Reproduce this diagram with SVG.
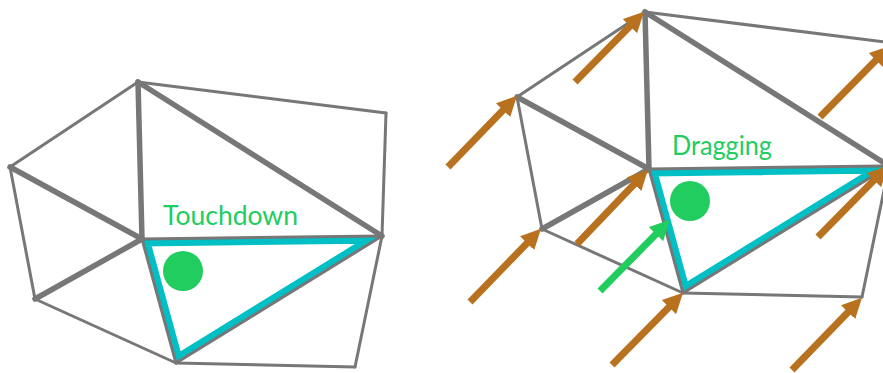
<svg xmlns="http://www.w3.org/2000/svg" width="883" height="373" viewBox="0 0 883 373">
<defs>
<style>
.e{stroke:#777777;stroke-width:3;fill:none;stroke-linecap:round}
.t{stroke-width:5.5}
.cy{fill:none;stroke:#00BFC5;stroke-width:15;stroke-linejoin:miter}
.dot{fill:#20CD5E}
.lbl{font-family:Lato,"Open Sans","Liberation Sans",sans-serif;font-size:26px;fill:#20CD5E}
.oa{stroke:#B8711F;stroke-width:7;fill:none}
.ga{stroke:#20CD5E;stroke-width:7;fill:none}
</style>
<clipPath id="tri" clipPathUnits="userSpaceOnUse"><polygon points="142,239 382,236 176,363"/></clipPath>
<marker id="ho" viewBox="0 0 20 20" refX="10" refY="10" markerWidth="20" markerHeight="20" markerUnits="userSpaceOnUse" orient="auto"><path d="M0,0 L20,10 L0,20 z" fill="#B8711F"/></marker>
<marker id="hg" viewBox="0 0 20 20" refX="10" refY="10" markerWidth="20" markerHeight="20" markerUnits="userSpaceOnUse" orient="auto"><path d="M0,0 L20,10 L0,20 z" fill="#20CD5E"/></marker>
</defs>
<rect width="883" height="373" fill="#ffffff"/>

<g id="touchdown">
  <polygon class="cy" points="142,239 382,236 176,363" clip-path="url(#tri)"/>
  <g id="mesh-left-edges">
    <line class="e" x1="138" y1="82" x2="386" y2="113"/>
    <line class="e" x1="138" y1="82" x2="10" y2="167"/>
    <line class="e" x1="386" y1="113" x2="382" y2="236"/>
    <line class="e" x1="10" y1="167" x2="35" y2="299"/>
    <line class="e" x1="35" y1="299" x2="176" y2="363"/>
    <line class="e" x1="176" y1="363" x2="355" y2="367"/>
    <line class="e" x1="382" y1="236" x2="355" y2="367"/>
    <line class="e" x1="142" y1="239" x2="382" y2="236"/>
    <line class="e" x1="142" y1="239" x2="176" y2="363"/>
    <line class="e" x1="382" y1="236" x2="176" y2="363"/>
    <line class="e t" x1="138" y1="82" x2="142" y2="239"/>
    <line class="e t" x1="138" y1="82" x2="382" y2="236"/>
    <line class="e t" x1="10" y1="167" x2="142" y2="239"/>
    <line class="e t" x1="142" y1="239" x2="35" y2="299"/>
  </g>
  <circle class="dot" cx="183" cy="271" r="20"/>
  <text class="lbl" x="163" y="225" textLength="135" lengthAdjust="spacingAndGlyphs">Touchdown</text>
</g>

<g id="dragging">
  <g transform="translate(507,-70)">
    <polygon class="cy" points="142,239 382,236 176,363" clip-path="url(#tri)"/>
    <g id="mesh-right-edges">
      <line class="e" x1="138" y1="82" x2="386" y2="113"/>
      <line class="e" x1="138" y1="82" x2="10" y2="167"/>
      <line class="e" x1="386" y1="113" x2="382" y2="236"/>
      <line class="e" x1="10" y1="167" x2="35" y2="299"/>
      <line class="e" x1="35" y1="299" x2="176" y2="363"/>
      <line class="e" x1="176" y1="363" x2="355" y2="367"/>
      <line class="e" x1="382" y1="236" x2="355" y2="367"/>
      <line class="e" x1="142" y1="239" x2="382" y2="236"/>
      <line class="e" x1="142" y1="239" x2="176" y2="363"/>
      <line class="e" x1="382" y1="236" x2="176" y2="363"/>
      <line class="e t" x1="138" y1="82" x2="142" y2="239"/>
      <line class="e t" x1="138" y1="82" x2="382" y2="236"/>
      <line class="e t" x1="10" y1="167" x2="142" y2="239"/>
      <line class="e t" x1="142" y1="239" x2="35" y2="299"/>
    </g>
    <circle class="dot" cx="183" cy="271" r="20"/>
  </g>
  <text class="lbl" x="672" y="155" textLength="100" lengthAdjust="spacingAndGlyphs">Dragging</text>
</g>

<g id="arrows">
  <line class="oa" x1="575" y1="82" x2="637" y2="19" marker-end="url(#ho)"/>
  <line class="oa" x1="448" y1="167" x2="510" y2="103" marker-end="url(#ho)"/>
  <line class="oa" x1="470" y1="302" x2="534" y2="236" marker-end="url(#ho)"/>
  <line class="oa" x1="577" y1="244" x2="641" y2="177" marker-end="url(#ho)"/>
  <line class="oa" x1="612" y1="365" x2="676" y2="300" marker-end="url(#ho)"/>
  <line class="oa" x1="792" y1="370" x2="855" y2="305" marker-end="url(#ho)"/>
  <line class="oa" x1="818" y1="237" x2="881" y2="173" marker-end="url(#ho)"/>
  <line class="oa" x1="820" y1="117" x2="883" y2="53" marker-end="url(#ho)"/>
  <line class="ga" x1="600" y1="291" x2="663" y2="227" marker-end="url(#hg)"/>
</g>
</svg>
